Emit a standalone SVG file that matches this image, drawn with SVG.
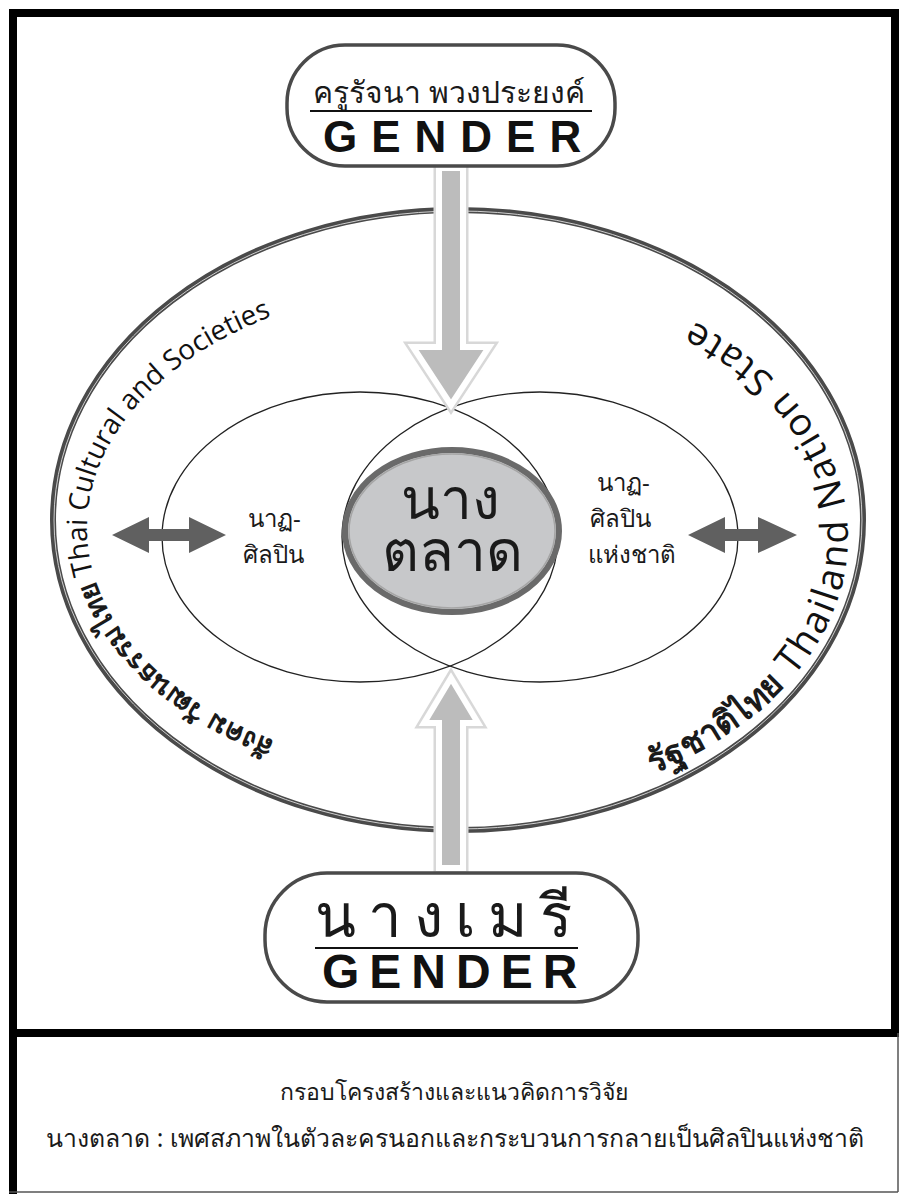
<svg xmlns="http://www.w3.org/2000/svg" width="902" height="1194" viewBox="0 0 902 1194">
<style>
.th{font-family:"Noto Sans","DejaVu Sans",sans-serif;fill:#1a1a1a}
.en{font-family:"Open Sans","Liberation Sans",sans-serif;fill:#111}
.gen{font-family:"Liberation Sans",Arial,sans-serif;font-weight:bold;fill:#111}
.lens{fill:none;stroke:#222;stroke-width:1.3}
.pill{fill:#fff;stroke:#4a4a4a;stroke-width:3.5}
.rule{stroke:#111;stroke-width:2}
.darr{fill:#606060}
</style>
<defs>
<path id="leftArc" d="M 275 741 A 372 245 0 0 1 331 298"/>
<path id="rightArc" d="M 653 773.5 A 390 272 0 0 0 559 275.3"/>
<polygon id="downArrow" points="439,168 463,168 463,347 489,347 451,405 413,347 439,347"/>
<polygon id="upArrow" points="451,678 478,723 463,723 463,868 439,868 439,723 424,723"/>
</defs>
<rect width="902" height="1194" fill="#fff"/>
<g id="frame">
<rect x="13" y="13" width="882" height="1020" fill="none" stroke="#000" stroke-width="8"/>
<line x1="13" y1="1033" x2="13" y2="1194" stroke="#000" stroke-width="8"/>
<line x1="898" y1="1033" x2="898" y2="1192" stroke="#555" stroke-width="1.5"/>
<line x1="9" y1="1192" x2="898" y2="1192" stroke="#555" stroke-width="1.5"/>
</g>
<g id="context">
<ellipse cx="458" cy="520" rx="405" ry="310" fill="none" stroke="#4a4a4a" stroke-width="6"/>
<ellipse cx="458" cy="520" rx="404" ry="309" fill="none" stroke="#cfcfcf" stroke-width="1"/>
<text class="en" font-size="28"><textPath href="#leftArc"><tspan class="th" font-weight="bold" font-size="28">สังคม วัฒนธรรมไทย</tspan> Thai Cultural and Societies</textPath></text>
<text class="en" font-size="38" letter-spacing="2.5"><textPath href="#rightArc"><tspan class="th" font-weight="bold" font-size="34" letter-spacing="0">รัฐชาติไทย</tspan> Thailand Nation State</textPath></text>
</g>
<g id="lens-left">
<ellipse class="lens" cx="360" cy="537" rx="198" ry="145"/>
<text class="th" font-size="24" x="248" y="527">นาฏ-</text>
<text class="th" font-size="24" x="243" y="563">ศิลปิน</text>
</g>
<g id="lens-right">
<ellipse class="lens" cx="540" cy="537" rx="198" ry="145"/>
<text class="th" font-size="24" x="597" y="491">นาฏ-</text>
<text class="th" font-size="24" x="590" y="527">ศิลปิน</text>
<text class="th" font-size="24" x="588" y="563">แห่งชาติ</text>
</g>
<g id="center">
<ellipse cx="452" cy="531" rx="107" ry="81" fill="#c7c8ca" stroke="#6a6a6a" stroke-width="6"/>
<ellipse cx="452" cy="531" rx="103" ry="77" fill="none" stroke="#a5a5a5" stroke-width="1.5"/>
<text class="th" font-size="57" text-anchor="middle" x="450" y="519">นาง</text>
<text class="th" font-size="57" text-anchor="middle" x="452" y="571">ตลาด</text>
</g>
<g id="connectors">
<use href="#downArrow" fill="none" stroke="#d8d8d8" stroke-width="11"/>
<use href="#downArrow" fill="#bcbcbc" stroke="#fff" stroke-width="6"/>
<use href="#upArrow" fill="none" stroke="#d8d8d8" stroke-width="11"/>
<use href="#upArrow" fill="#bcbcbc" stroke="#fff" stroke-width="6"/>
<polygon class="darr" points="112,535 149,517 149,529 189,529 189,517 226,535 189,553 189,541 149,541 149,553"/>
<polygon class="darr" points="688,535 725,517 725,529 758,529 758,517 797,535 758,553 758,541 725,541 725,553"/>
</g>
<g id="top-node">
<rect class="pill" x="287" y="45" width="328" height="121" rx="58"/>
<text class="th" font-size="30" x="449" y="103" text-anchor="middle">ครูรัจนา พวงประยงค์</text>
<line class="rule" x1="310" y1="111" x2="592" y2="111"/>
<text class="gen" font-size="44" x="323" y="152" letter-spacing="14">GENDER</text>
</g>
<g id="bottom-node">
<rect class="pill" x="265" y="873" width="373" height="129" rx="62"/>
<text class="th" font-size="60" x="315" y="937" letter-spacing="12">นางเมรี</text>
<line class="rule" x1="315" y1="948" x2="578" y2="948"/>
<text class="gen" font-size="48" x="322" y="988" letter-spacing="10">GENDER</text>
</g>
<g id="caption">
<text class="th" font-size="23" x="454" y="1100" text-anchor="middle">กรอบโครงสร้างและแนวคิดการวิจัย</text>
<text class="th" font-size="24.8" x="455" y="1147" text-anchor="middle">นางตลาด : เพศสภาพในตัวละครนอกและกระบวนการกลายเป็นศิลปินแห่งชาติ</text>
</g>
</svg>
